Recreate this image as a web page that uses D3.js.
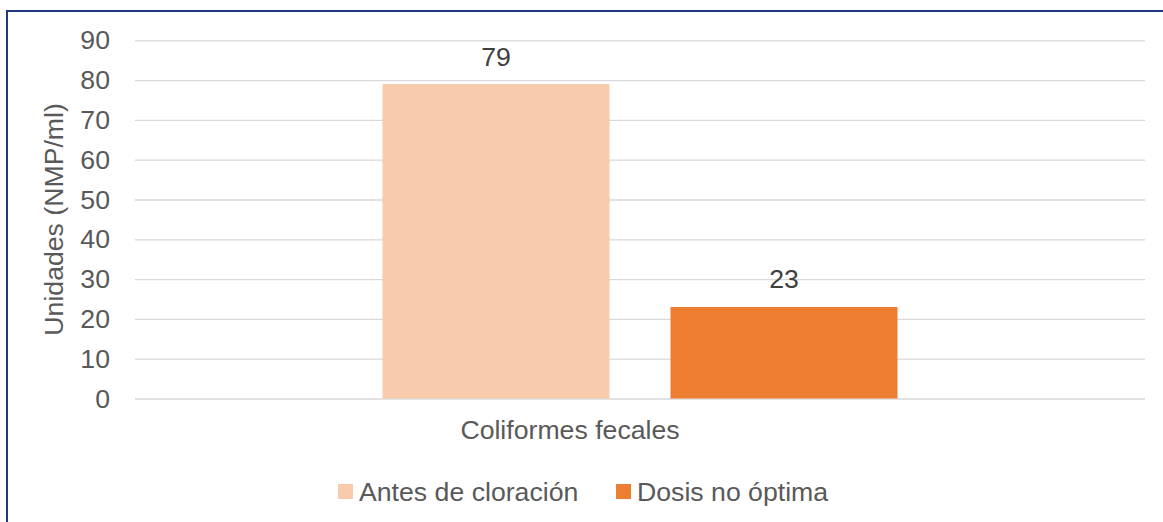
<!DOCTYPE html>
<html>
<head>
<meta charset="utf-8">
<script src="https://cdn.jsdelivr.net/npm/d3@7"></script>
<style>
  html, body { margin: 0; padding: 0; background: #fff; }
  svg text { font-family: "Liberation Sans", Arial, sans-serif; }
</style>
</head>
<body>
<div id="chart"></div>
<script>
// datos
const categories = ['Coliformes fecales'];
const seriesNames = ['Antes de cloración', 'Dosis no óptima'];
const seriesValues = [[79], [23]];
const seriesColors = ['#F8CBAD', '#ED7D31'];
const yTicks = [0, 10, 20, 30, 40, 50, 60, 70, 80, 90];

const width_svg = 1163, height_svg = 522;
const margin = {top: 40.3, right: 18, bottom: 123.5, left: 135};

const svg = d3.select('#chart').append('svg')
  .attr('width', width_svg)
  .attr('height', height_svg);

// marco
svg.append('rect')
  .attr('x', 7).attr('y', 11)
  .attr('width', 1300).attr('height', 700)
  .attr('fill', 'none')
  .attr('stroke', '#1F3A7E')
  .attr('stroke-width', 2);

let yScale = d3.scaleLinear()
  .domain([0, 90])
  .range([height_svg - margin.bottom, margin.top]);

let x0 = d3.scaleBand()
  .domain(categories)
  .range([margin.left, width_svg - margin.right])
  .paddingInner(0)
  .paddingOuter(0.4806);

let x1 = d3.scaleBand()
  .domain(seriesNames)
  .range([0, x0.bandwidth()])
  .paddingInner(0.2118)
  .paddingOuter(0);

// rejilla + eje y
let yAxis = g => g.attr('transform', `translate(${margin.left}, 0)`)
  .call(d3.axisLeft(yScale).tickValues(yTicks).tickSize(0).tickPadding(25))
  .call(g => g.select('.domain').remove())
  .call(g => g.selectAll('.tick line').clone()
              .attr('x2', width_svg - margin.right - margin.left)
              .attr('stroke', '#D9D9D9')
              .attr('stroke-width', 1.3))
  .call(g => g.selectAll('.tick text')
              .attr('fill', '#595959')
              .attr('font-size', '26.67px')
              .attr('font-family', '"Liberation Sans", Arial, sans-serif'));

svg.append('g').attr('id', 'g_yAxis').call(yAxis);

// eje x (solo etiqueta)
let xAxis = g => g.attr('transform', `translate(0, ${yScale(0)})`)
  .call(d3.axisBottom(x0).tickSize(0).tickPadding(22))
  .call(g => g.select('.domain').remove())
  .call(g => g.selectAll('.tick text')
              .attr('dx', -70)
              .attr('fill', '#595959')
              .attr('font-size', '26.67px')
              .attr('font-family', '"Liberation Sans", Arial, sans-serif'));

svg.append('g').attr('id', 'g_xAxis').call(xAxis);

// barras
const barData = [];
categories.forEach((c, ci) => {
  seriesNames.forEach((s, si) => {
    barData.push({cat: c, name: s, value: seriesValues[si][ci], color: seriesColors[si]});
  });
});

const bars = svg.append('g').attr('id', 'g_bars');
bars.selectAll('rect')
  .data(barData)
  .enter().append('rect')
    .attr('x', d => x0(d.cat) + x1(d.name))
    .attr('y', d => yScale(d.value))
    .attr('width', x1.bandwidth())
    .attr('height', d => yScale(0) - yScale(d.value))
    .attr('fill', d => d.color);

bars.selectAll('text')
  .data(barData)
  .enter().append('text')
    .attr('x', d => x0(d.cat) + x1(d.name) + x1.bandwidth() / 2)
    .attr('y', d => yScale(d.value) - 18.5)
    .attr('text-anchor', 'middle')
    .attr('fill', '#404040')
    .attr('font-size', '26.67px')
    .text(d => d.value);

// título eje y
svg.append('text')
  .attr('transform', `translate(63, ${(yScale(0) + yScale(90)) / 2}) rotate(-90)`)
  .attr('text-anchor', 'middle')
  .attr('fill', '#595959')
  .attr('font-size', '26.67px')
  .text('Unidades (NMP/ml)');

// leyenda
const legendX = [338, 616];
const legend = svg.append('g').attr('id', 'g_legend');
const items = legend.selectAll('g')
  .data(seriesNames)
  .enter().append('g')
    .attr('transform', (d, i) => `translate(${legendX[i]}, 484)`);
items.append('rect')
  .attr('width', 15).attr('height', 15)
  .attr('fill', (d, i) => seriesColors[i]);
items.append('text')
  .attr('x', 21).attr('y', 17)
  .attr('fill', '#595959')
  .attr('font-size', '26.67px')
  .text(d => d);
</script>
</body>
</html>
